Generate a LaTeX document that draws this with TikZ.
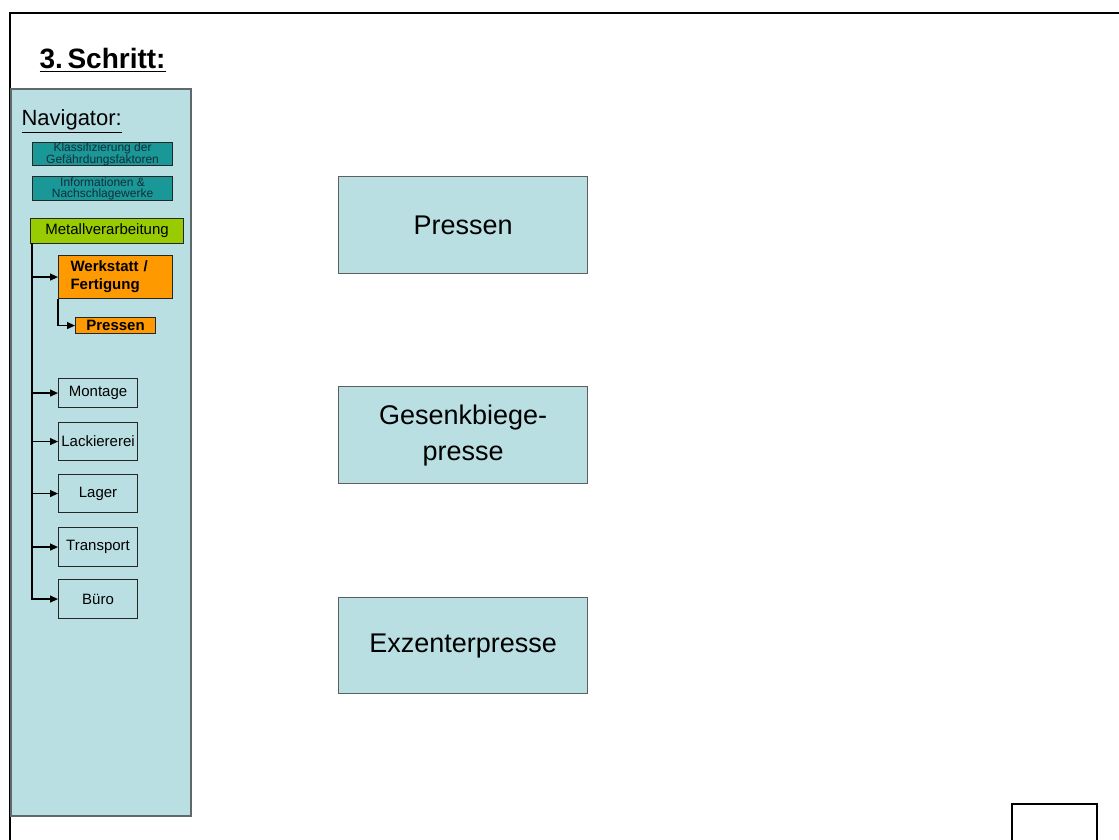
\documentclass[tikz,border=0pt]{standalone}
\usepackage{fontspec}
\setmainfont{Liberation Sans}
\usetikzlibrary{arrows.meta}
\definecolor{panel}{RGB}{186,223,227}
\definecolor{panelline}{RGB}{95,105,108}
\definecolor{navteal}{RGB}{26,152,152}
\definecolor{navgreen}{RGB}{153,204,0}
\definecolor{navorange}{RGB}{255,153,0}
\definecolor{navtext}{RGB}{20,45,55}
\definecolor{bigfill}{RGB}{186,223,226}
\definecolor{bigline}{RGB}{95,95,95}
\begin{document}
\begin{tikzpicture}[x=1pt,y=-1pt,
  navbox/.style={draw=black!85, line width=1.1, inner sep=0pt, anchor=north west},
  infobox/.style={navbox, fill=navteal, text=navtext, align=center,
    font=\fontsize{12}{11}\selectfont},
  subbox/.style={navbox, minimum width=79, font=\fontsize{15}{18}\selectfont},
  bigbox/.style={draw=bigline, fill=bigfill, line width=1.4, anchor=north west,
    minimum width=249, align=center, font=\fontsize{27}{36}\selectfont},
  link/.style={line width=1.2, -{Triangle[length=8,width=7]}},
  frame/.style={line width=2.2}]
\useasboundingbox (0,0) rectangle (1119,840);
\fill[white] (0,0) rectangle (1119,840);
% page frame
\draw[frame] (1125,13) -- (10,13) -- (10,845);
\draw[frame] (1012,845) -- (1012,804) -- (1097,804) -- (1097,845);
% navigator panel
\node[draw=panelline, fill=panel, line width=1.6, anchor=north west,
  minimum width=180, minimum height=727, inner sep=0pt] (panel) at (10,88) {};
\node[anchor=base west, font=\bfseries\fontsize{28}{32}\selectfont] (title)
  at (36,69) {\underline{3.\,Schritt:}};
\node[anchor=base west, font=\fontsize{22}{26}\selectfont] (navtitle)
  at (18,126) {\underline{Navigator:}};
\node[infobox, minimum width=140, minimum height=23] (klass) at (32,142)
  {Klassifizierung der\\Gefährdungsfaktoren};
\node[infobox, minimum width=140, minimum height=24] (info) at (32,176)
  {Informationen \&\\Nachschlagewerke};
\node[navbox, fill=navgreen, minimum width=153, minimum height=25,
  font=\fontsize{15}{18}\selectfont] (metall) at (30,218) {Metallverarbeitung};
\node[navbox, fill=navorange, minimum width=114, minimum height=43,
  text width=90, inner xsep=12, align=left,
  font=\bfseries\fontsize{15}{18}\selectfont] (werk) at (58,255)
  {Werkstatt /\\Fertigung};
\node[navbox, fill=navorange, minimum width=80, minimum height=16,
  font=\bfseries\fontsize{15}{18}\selectfont] (spress) at (75,317) {Pressen};
\node[subbox, minimum height=29] (montage) at (58,378) {Montage};
\node[subbox, minimum height=38] (lack) at (58,422) {Lackiererei};
\node[subbox, minimum height=38] (lager) at (58,474) {Lager};
\node[subbox, minimum height=39] (transport) at (58,527) {Transport};
\node[subbox, minimum height=39] (buero) at (58,579) {Büro};
% tree connectors
\coordinate (trunk) at (32,243);
\draw[link] (trunk) |- (buero.west);
\foreach \n in {werk,montage,lack,lager,transport}
  \draw[link] (trunk |- \n.west) -- (\n.west);
\draw[link] (werk.south west) |- (spress.west);
% main boxes
\node[bigbox, minimum height=97] (pressen) at (338,176) {Pressen};
\node[bigbox, minimum height=97] (gesenk) at (338,386) {Gesenkbiege-\\presse};
\node[bigbox, minimum height=96] (exzenter) at (338,597) {Exzenterpresse};
\end{tikzpicture}
\end{document}
